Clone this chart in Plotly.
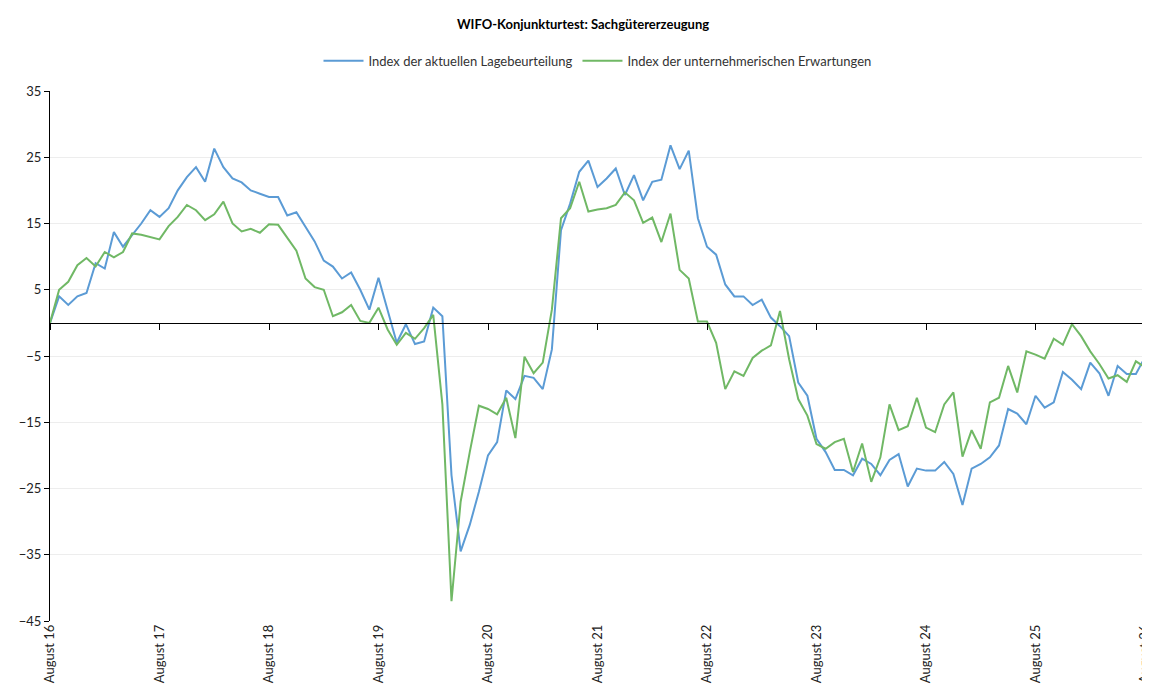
import plotly.graph_objects as go

years = ["16","17","18","19","20","21","22","23","24","25","26"]
tick_labels = ["August " + y for y in years]
months = list(range(121))

lage = [0,4,2.7,4,4.5,9,8.2,13.7,11.5,13.3,15,17,
        16,17.3,20,22,23.5,21.3,26.3,23.5,21.8,21.2,20,19.5,
        19,19,16.2,16.7,14.6,12.3,9.4,8.5,6.7,7.6,5,2,
        6.8,2,-3,-0.2,-3.2,-2.8,2.3,1,-23,-34.5,-30.5,-25.5,
        -20,-18,-10.2,-11.5,-8,-8.3,-10,-4,14,18,22.8,24.5,
        20.5,21.8,23.3,19.3,22.3,18.5,21.3,21.6,26.8,23.2,26,15.8,
        11.5,10.3,5.8,4,4,2.7,3.5,0.8,-0.5,-2,-9,-11,
        -17.5,-19.5,-22.2,-22.2,-23,-20.5,-21.3,-23,-20.7,-19.8,-24.7,-22,
        -22.3,-22.3,-21,-22.8,-27.5,-22,-21.3,-20.3,-18.5,-13,-13.7,-15.3,
        -11,-12.8,-12,-7.4,-8.6,-10,-6,-7.6,-11,-6.5,-7.7,-7.7,
        -5.2]
erwartung = [0,5,6.2,8.7,9.8,8.5,10.7,9.9,10.7,13.5,13.3,13,
        12.6,14.6,16,17.8,17,15.5,16.4,18.3,15,13.8,14.2,13.6,
        14.9,14.8,12.8,10.9,6.7,5.4,5,1,1.6,2.7,0.3,0,
        2.3,-1,-3.3,-1.5,-2.4,-0.8,1.2,-12.3,-42,-27,-19.5,-12.5,
        -13,-13.8,-11.3,-17.4,-5.1,-7.6,-6,2,15.8,17.3,21.3,16.8,
        17.1,17.3,17.8,19.7,18.5,15.1,15.9,12.2,16.5,8,6.7,0.2,
        0.2,-3,-10,-7.3,-8,-5.3,-4.2,-3.4,1.8,-5.5,-11.5,-14,
        -18.3,-19,-18,-17.5,-22.5,-18.2,-24,-20.3,-12.3,-16.2,-15.6,-11.3,
        -15.8,-16.5,-12.3,-10.5,-20.2,-16.2,-19,-12,-11.3,-6.5,-10.5,-4.3,
        -4.8,-5.4,-2.4,-3.3,-0.2,-2,-4.3,-6.2,-8.4,-7.9,-8.9,-5.8,
        -6.7]

tickvals = months[::12]
ymin, ymax = -45, 35

fig = go.Figure()
fig.add_trace(go.Scatter(x=months, y=lage, mode="lines", name="Index der aktuellen Lagebeurteilung",
                         line=dict(color="#5B9BD5", width=2)))
fig.add_trace(go.Scatter(x=months, y=erwartung, mode="lines", name="Index der unternehmerischen Erwartungen",
                         line=dict(color="#70B865", width=2)))
fig.add_trace(go.Scatter(x=[months[0], months[-1]], y=[0, 0], xaxis="x2", mode="lines",
                         line=dict(color="rgba(0,0,0,0)"), showlegend=False, hoverinfo="skip"))

fig.update_layout(
    width=1150, height=688,
    margin=dict(l=42, r=13, t=83, b=75, autoexpand=False),
    paper_bgcolor="white", plot_bgcolor="white",
    font=dict(family="Lato, DejaVu Sans, sans-serif", size=13, color="#222"),
    title=dict(text="<b>WIFO-Konjunkturtest: Sachgütererzeugung</b>", x=0.5, xanchor="center",
               y=1 - 16 / 688, yanchor="middle", font=dict(size=13, color="#000")),
    legend=dict(orientation="h", x=0.5, xanchor="center", y=1.057, yanchor="middle",
                font=dict(size=13, color="#333"), itemwidth=40, tracegroupgap=40),
    xaxis=dict(range=[0, 120], tickvals=tickvals, ticktext=tick_labels, tickangle=-90,
               showgrid=False, zeroline=False, showline=False, ticks="", tickfont=dict(size=13, color="#222")),
    xaxis2=dict(range=[0, 120], overlaying="x", anchor="free",
                position=(0 - ymin) / (ymax - ymin), side="bottom",
                tickvals=tickvals, showticklabels=False, ticks="outside", ticklen=6,
                tickcolor="black", showline=True, linecolor="black", linewidth=1, showgrid=False),
    yaxis=dict(range=[ymin, ymax], tickvals=list(range(ymin, ymax + 1, 10)), showgrid=True,
               gridcolor="#EDEDED", zeroline=False, showline=True, linecolor="black",
               ticks="outside", ticklen=5, tickcolor="black", tickfont=dict(size=13, color="#222")),
)
fig.write_html("out.html")
